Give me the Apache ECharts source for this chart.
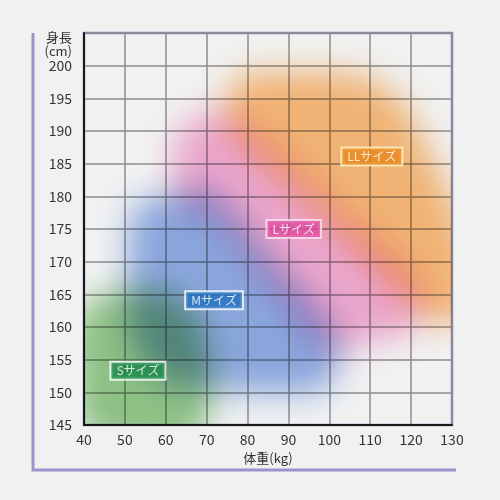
<!DOCTYPE html>
<html><head><meta charset="utf-8">
<script src="https://cdn.jsdelivr.net/npm/echarts@6/dist/echarts.min.js"></script>
<style>html,body{margin:0;padding:0;background:#f0f1f1;}#c{width:500px;height:500px;}</style>
</head><body><div id="c"></div>
<script>
// ---- data ----
const xTicks = [40, 50, 60, 70, 80, 90, 100, 110, 120, 130];
const yTicks = [145, 150, 155, 160, 165, 170, 175, 180, 185, 190, 195, 200];
const sizeNames = ['Sサイズ', 'Mサイズ', 'Lサイズ', 'LLサイズ'];
// region outlines: [weight(kg), height(cm)]
const regionS = [[38,161],[44,164.5],[52,165.8],[60,165.3],[66,163],[70,158],[71.3,152],[70,146],[66,142],[56,141.5],[46,142.5],[40,144],[38,152]];
const regionM = [[51.5,176],[54,179],[62,180],[70,181],[86,170.2],[101.5,159],[101.5,153.5],[98.5,150.5],[90,150],[75,150.3],[60,152],[52,158],[51,168]];
const regionL = [[61.8,184],[63,189],[67,192],[72,192.8],[76.4,192.7],[100.2,179.2],[121.4,167],[123,163.5],[120,159.5],[112,158],[102,156.5],[100.2,155.5],[85,166.4],[69.6,177.6],[64,177.5]];
const regionLL = [[75.5,196],[78.1,198.4],[92.8,199],[107,198.5],[116,195.5],[121.5,190.5],[126,185],[130.5,178.5],[134,172],[134,162],[127,160.5],[121.4,162.7],[100.2,175.8],[79.4,187.7],[75.5,190.5]];
// label anchor points [weight, height]
const labelPoints = [[53.2,153.3],[71.8,164.1],[91.3,175],[110.4,186.1]];

const regions = [regionM, regionL, regionLL, regionS];
const regionColors = ['#93b0ea', '#f9b0d8', '#ffbe7c', '#96cc8c'];
const labelBg = ['#188a46', '#1f6fc0', '#e04a9c', '#e8861a'];
const labelBorder = ['#ffffff', '#ffffff', '#fbe2f0', '#fff3c4'];

const chart = echarts.init(document.getElementById('c'));
const OFF = 3000;
const font = '"Noto Sans CJK JP","Noto Sans",sans-serif';
chart.setOption({
  backgroundColor: '#f0f1f1',
  animation: false,
  grid: {left: 84, top: 33, right: 48, bottom: 75, show: true, borderColor: '#8a82c6', borderWidth: 2.5, backgroundColor: 'transparent'},
  xAxis: {
    type: 'value', min: xTicks[0], max: xTicks[xTicks.length-1], interval: 10,
    name: '体重(kg)', nameLocation: 'middle', nameGap: 22,
    nameTextStyle: {fontSize: 13, color: '#333', fontFamily: font},
    axisLine: {show: true, lineStyle: {color: '#1a1a1a', width: 2}},
    axisTick: {show: false},
    axisLabel: {margin: 8, fontSize: 14, color: '#333', fontFamily: font,
      formatter: v => xTicks.indexOf(v) >= 0 ? String(v) : ''},
    splitLine: {show: true, lineStyle: {color: '#8d8d8d', width: 1.5}}
  },
  yAxis: {
    type: 'value', min: 145, max: 205, interval: 5,
    name: '身長\n(cm)', nameLocation: 'end', nameGap: 3,
    nameTextStyle: {fontSize: 13, color: '#333', fontFamily: font, align: 'right', verticalAlign: 'top', padding: [0, 12, 0, 0], lineHeight: 14},
    axisLine: {show: true, lineStyle: {color: '#1a1a1a', width: 2}},
    axisTick: {show: false},
    axisLabel: {margin: 12, fontSize: 14, color: '#333', fontFamily: font,
      formatter: v => yTicks.indexOf(v) >= 0 ? String(v) : ''},
    splitLine: {show: true, lineStyle: {color: '#8d8d8d', width: 1.5}}
  },
  graphic: [
    {type: 'polyline', shape: {points: [[33, 33], [33, 470], [456, 470]]}, style: {stroke: '#9a93cc', lineWidth: 3, fill: null}, z: 10}
  ],
  series: [
    {
      type: 'custom', clip: true, z: 2, blendMode: 'multiply',
      data: regions.map((r, i) => [i]),
      renderItem: function (params, api) {
        const idx = params.dataIndex;
        const pts = regions[idx].map(p => { const c = api.coord(p); return [c[0] - OFF, c[1]]; });
        const col = regionColors[idx];
        return {
          type: 'polygon',
          shape: {points: pts, smooth: 0.45},
          style: {fill: col, shadowBlur: 32, shadowColor: col, shadowOffsetX: OFF, shadowOffsetY: 0}
        };
      }
    },
    {
      type: 'scatter', z: 5, symbolSize: 0, silent: true,
      data: labelPoints.map((p, i) => ({
        value: p, name: sizeNames[i],
        label: {backgroundColor: labelBg[i], borderColor: labelBorder[i], borderWidth: 2, padding: [3, 5, 1, 5]}
      })),
      label: {
        show: true, position: 'inside', fontFamily: font, fontSize: 12, color: '#fff',
        formatter: p => p.name
      }
    }
  ]
});
</script></body></html>
